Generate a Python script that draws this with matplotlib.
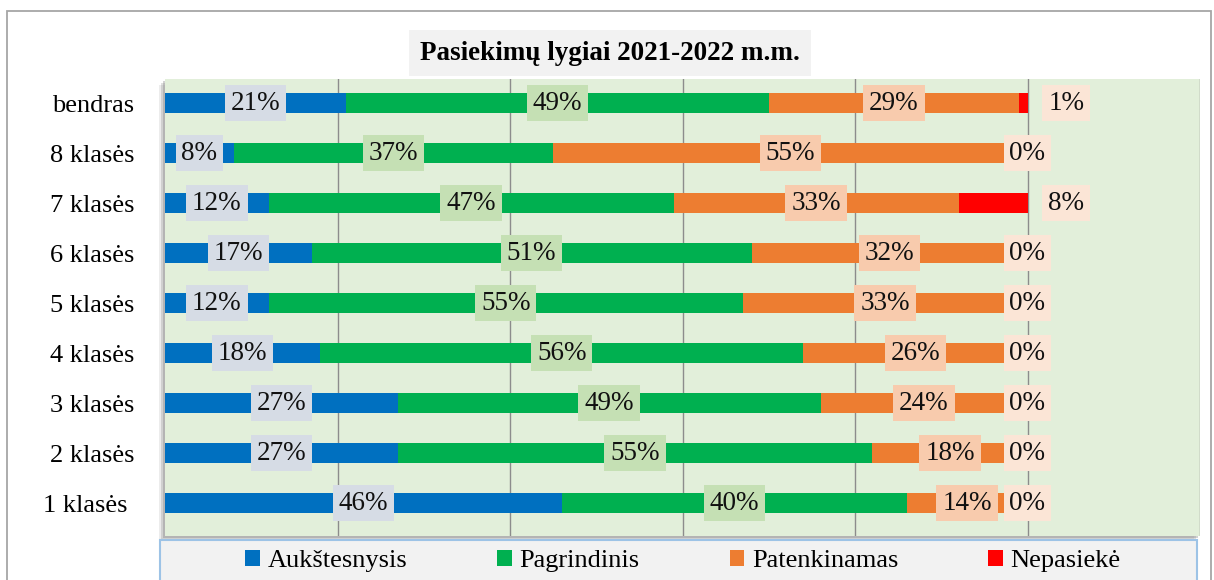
import matplotlib.pyplot as plt
from matplotlib.patches import Rectangle
import numpy as np

plt.rcParams["font.family"] = ["Liberation Serif", "DejaVu Serif"]

categories = ["1 klasės ", "2 klasės", "3 klasės", "4 klasės", "5 klasės",
              "6 klasės", "7 klasės", "8 klasės", "bendras"]
aukstesnysis = [46, 27, 27, 18, 12, 17, 12, 8, 21]
pagrindinis = [40, 55, 49, 56, 55, 51, 47, 37, 49]
patenkinamas = [14, 18, 24, 26, 33, 32, 33, 55, 29]
nepasieke = [0, 0, 0, 0, 0, 0, 8, 0, 1]

series = [
    ("Aukštesnysis", aukstesnysis, "#0070C0", "#D6DCE5"),
    ("Pagrindinis", pagrindinis, "#00B050", "#C5E0B4"),
    ("Patenkinamas", patenkinamas, "#ED7D31", "#F8CBAD"),
    ("Nepasiekė", nepasieke, "#FF0000", "#FBE5D6"),
]

W, H = 1214, 580
fig = plt.figure(figsize=(W / 100, H / 100), dpi=100, facecolor="white")

# outer chart border
fig.patches.append(Rectangle((7 / W, -0.05), 1204 / W, (580 - 11) / H + 0.05,
                             transform=fig.transFigure, facecolor="none",
                             edgecolor="#A6A6A6", linewidth=1.3, zorder=0))

ax_l, ax_r, ax_t, ax_b = 165, 1200, 79, 536
# plot area shadow (offset down-left)
for k, a in [(6, 0.15), (4, 0.25), (2, 0.35)]:
    fig.patches.append(Rectangle(((ax_l - k) / W, (H - ax_b - k) / H),
                                 (ax_r - ax_l) / W, (ax_b - ax_t) / H,
                                 transform=fig.transFigure, facecolor="#808080",
                                 edgecolor="none", alpha=a, zorder=0))
ax = fig.add_axes([ax_l / W, (H - ax_b) / H, (ax_r - ax_l) / W, (ax_b - ax_t) / H])
ax.set_zorder(2)
ax.set_facecolor("#E2EFDA")

y = np.arange(len(categories))
left = np.zeros(len(categories))
totals = np.sum([s[1] for s in series], axis=0)
handles = []
for name, vals, color, label_bg in series:
    vals = np.array(vals, dtype=float)
    bars = ax.barh(y, vals, left=left, height=0.4, color=color, label=name, zorder=3)
    handles.append(bars)
    for i, v in enumerate(vals):
        if name == "Nepasiekė":
            xpos = totals[i] + 4.5 if v > 0 else totals[i]
        else:
            xpos = left[i] + v / 2
        ax.text(xpos, y[i], f"{int(v)}%", ha="center", va="center", fontsize=19.5,
                color="#111111", zorder=5,
                bbox=dict(boxstyle="square,pad=0.22", facecolor=label_bg, edgecolor="none"))
    left += vals

ax.set_xlim(0, 120)
ax.set_ylim(-0.66, 8.48)
ax.set_xticks([20, 40, 60, 80, 100, 120])
ax.xaxis.grid(True, color="#8C8C8C", linewidth=1.0, zorder=1)
ax.set_axisbelow(True)
ax.tick_params(axis="x", length=0, labelbottom=False)
ax.set_yticks(y)
ax.set_yticklabels(categories, fontsize=19)
ax.tick_params(axis="y", length=0, pad=22)
for side in ["top", "right", "bottom", "left"]:
    ax.spines[side].set_visible(False)

# title
fig.text(610 / W, 1 - 53 / H, "Pasiekimų lygiai 2021-2022 m.m.", ha="center", va="center",
         fontsize=19.5, fontweight="bold",
         bbox=dict(boxstyle="square,pad=0.4", facecolor="#F2F2F2", edgecolor="none"))

# legend box
fig.patches.append(Rectangle((160 / W, -0.05), (1197 - 160) / W, (H - 540) / H + 0.05,
                             transform=fig.transFigure, facecolor="#F2F2F2",
                             edgecolor="#9DC3E6", linewidth=1.5, zorder=1))
fig.legend(handles=handles, loc="center", bbox_to_anchor=(683 / W, 1 - 561 / H),
           ncol=4, frameon=False, fontsize=19, handlelength=0.55, handleheight=0.55,
           handletextpad=0.3, columnspacing=3.4)

fig.savefig("out.png", dpi=100)
